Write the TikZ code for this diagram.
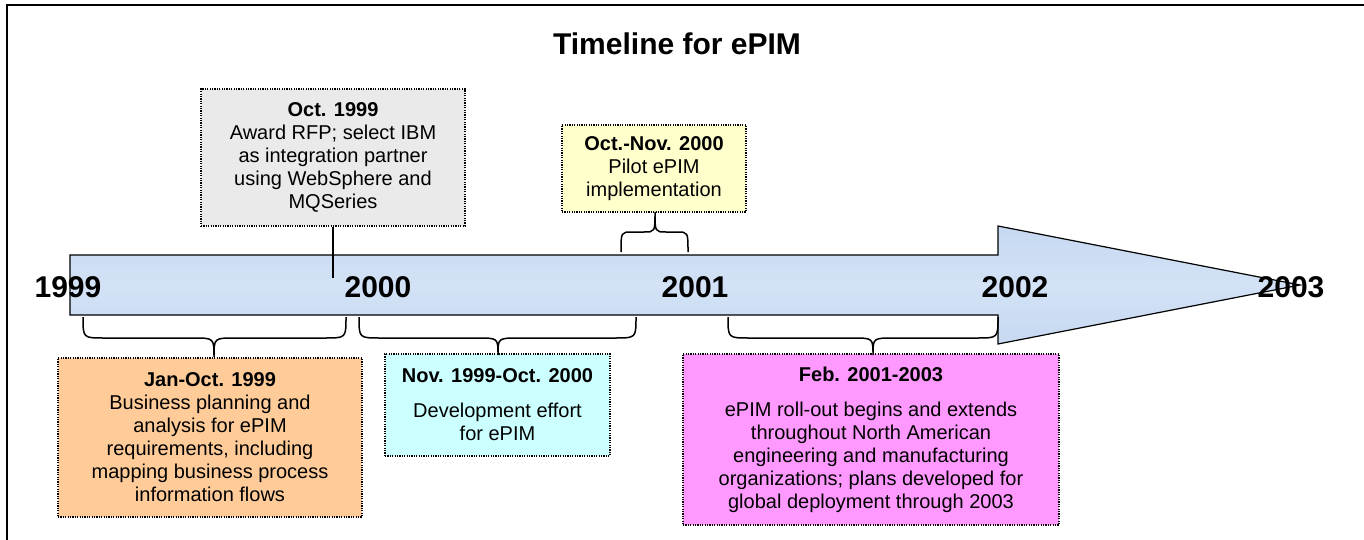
\documentclass[tikz,border=0pt]{standalone}
\usepackage{fontspec}
\setmainfont{Liberation Sans}
\definecolor{arrowfill}{HTML}{C6D9F1}
\definecolor{arrowmid}{HTML}{D3E2F6}
\definecolor{greyfill}{HTML}{EAEAEA}
\definecolor{yellowfill}{HTML}{FFFFCC}
\definecolor{orangefill}{HTML}{FFCC99}
\definecolor{cyanfill}{HTML}{CCFFFF}
\definecolor{pinkfill}{HTML}{FF99FF}
\begin{document}
\begin{tikzpicture}[x=1pt,y=-1pt,
  notebox/.style={draw=black, line width=1.2pt, dash pattern=on 1.2pt off 1.2pt,
    rectangle, inner sep=0pt, align=center, font=\fontsize{20}{23}\selectfont},
  yearlabel/.style={anchor=base, inner sep=0pt, font=\fontsize{30}{34}\selectfont\bfseries},
  brace/.style={draw=black, line width=1.5pt},
  tick/.style={draw=black, line width=1.5pt}]
\useasboundingbox (0,0) rectangle (1364,540);

% frame
\draw[line width=2.5pt] (7,540) -- (7,5) -- (1364,5);

% title
\node[font=\fontsize{30}{34}\selectfont\bfseries] (title) at (677,44) {Timeline for ePIM};

% the timeline arrow
\path[draw=black, line width=1.2pt, top color=arrowfill, bottom color=arrowfill, middle color=arrowmid]
  (70,255) -- (998,255) -- (998,226) -- (1300,285) -- (998,344) -- (998,315) -- (70,315) -- cycle;

% year labels
\node[yearlabel] (y1999) at (68,297) {1999};
\node[yearlabel] (y2000) at (378,297) {2000};
\node[yearlabel] (y2001) at (695,297) {2001};
\node[yearlabel] (y2002) at (1015,297) {2002};
\node[yearlabel] (y2003) at (1291,297) {2003};

% event boxes
\node[notebox, fill=greyfill, minimum width=264pt, minimum height=137pt] (award) at (333,157.5)
  {{\bfseries Oct. 1999}\\Award RFP; select IBM\\as integration partner\\using WebSphere and\\MQSeries};
\node[notebox, fill=yellowfill, minimum width=184pt, minimum height=87pt] (pilot) at (654,168.5)
  {{\bfseries Oct.-Nov. 2000}\\Pilot ePIM\\implementation};
\node[notebox, fill=orangefill, minimum width=304pt, minimum height=159pt] (plan) at (210,437.5)
  {{\bfseries Jan-Oct. 1999}\\Business planning and\\analysis for ePIM\\requirements, including\\mapping business process\\information flows};
\node[notebox, fill=cyanfill, minimum width=225pt, minimum height=102pt] (dev) at (497.5,405)
  {{\bfseries Nov. 1999-Oct. 2000}\\[12pt]Development effort\\for ePIM};
\node[notebox, fill=pinkfill, minimum width=376pt, minimum height=171pt] (roll) at (871,439.5)
  {{\bfseries Feb. 2001-2003}\\[12pt]ePIM roll-out begins and extends\\throughout North American\\engineering and manufacturing\\organizations; plans developed for\\global deployment through 2003};

% marker from the award box down into the arrow
\coordinate (awardpt) at (333,278);
\draw[tick] (award.south) -- (awardpt);

% brace above the arrow
\draw[brace] (621,252) .. controls (621,232) .. (632,232) -- (644,232)
  .. controls (655,232) .. (655,212) .. controls (655,232) .. (666,232)
  -- (677,232) .. controls (688,232) .. (688,252);

% braces below the arrow
\draw[brace] (83,317) .. controls (83,338) .. (104,338) -- (193,338)
  .. controls (214,338) .. (214,357) .. controls (214,338) .. (235,338)
  -- (325,338) .. controls (346,338) .. (346,317);
\draw[brace] (359,317) .. controls (359,338) .. (380,338) -- (477,338)
  .. controls (498,338) .. (498,355) .. controls (498,338) .. (519,338)
  -- (615,338) .. controls (636,338) .. (636,317);
\draw[brace] (728,317) .. controls (728,338) .. (749,338) -- (852,338)
  .. controls (873,338) .. (873,355) .. controls (873,338) .. (894,338)
  -- (977,338) .. controls (998,338) .. (998,317);
\end{tikzpicture}
\end{document}
